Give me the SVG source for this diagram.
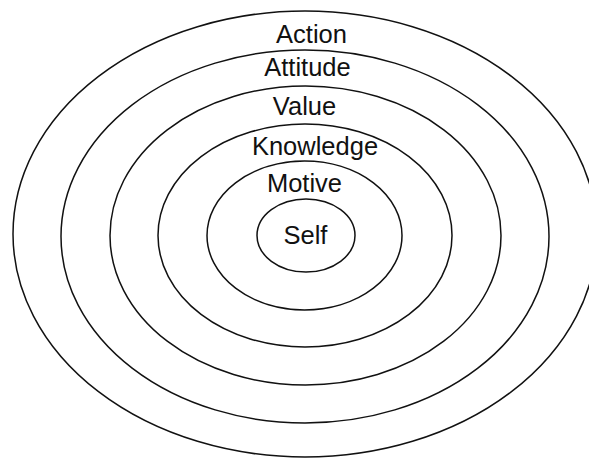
<svg xmlns="http://www.w3.org/2000/svg" width="589" height="458" viewBox="0 0 589 458">
  <style>
    .ring { fill: none; stroke: #111; stroke-width: 1.5; }
    .label { font-family: "Liberation Sans", Arial, sans-serif; font-size: 25.5px; fill: #111; text-anchor: middle; }
  </style>
  <rect width="589" height="458" fill="#fff"/>
  <!-- concentric rings, outermost first -->
  <g id="action">
    <ellipse class="ring" cx="305" cy="234" rx="292" ry="223"/>
    <text class="label" x="311.5" y="43">Action</text>
  </g>
  <g id="attitude">
    <ellipse class="ring" cx="305" cy="236.5" rx="244" ry="186.5"/>
    <text class="label" x="307.5" y="76">Attitude</text>
  </g>
  <g id="value">
    <ellipse class="ring" cx="305.5" cy="235.5" rx="195.5" ry="149.5"/>
    <text class="label" x="304.5" y="115">Value</text>
  </g>
  <g id="knowledge">
    <ellipse class="ring" cx="305" cy="235.5" rx="147" ry="111.5"/>
    <text class="label" x="315" y="155">Knowledge</text>
  </g>
  <g id="motive">
    <ellipse class="ring" cx="304.5" cy="235.5" rx="97.5" ry="74.5"/>
    <text class="label" x="304.5" y="192">Motive</text>
  </g>
  <g id="self">
    <ellipse class="ring" cx="306" cy="235.5" rx="49" ry="36.5"/>
    <text class="label" x="305.5" y="244">Self</text>
  </g>
  <g id="connectors"/>
</svg>
